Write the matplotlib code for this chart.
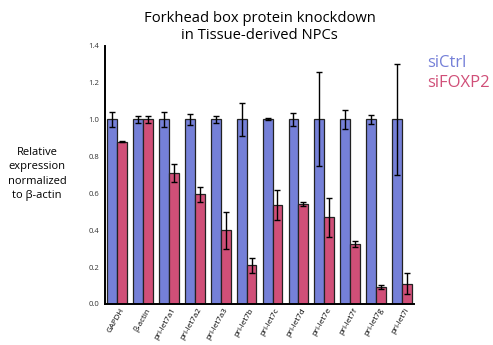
import numpy as np
import matplotlib.pyplot as plt

plt.rcParams['font.family'] = ['Open Sans', 'DejaVu Sans']

# relative expression (normalized to beta-actin), mean and error
genes = ["GAPDH", "β-actin", "pri-let7a1", "pri-let7a2", "pri-let7a3", "pri-let7b",
         "pri-let7c", "pri-let7d", "pri-let7e", "pri-let7f", "pri-let7g", "pri-let7i"]
ctrl_mean = [1.0, 1.0, 1.0, 1.0, 1.0, 1.0, 1.0, 1.0, 1.0, 1.0, 1.0, 1.0]
ctrl_err = [0.04, 0.02, 0.04, 0.03, 0.02, 0.09, 0.005, 0.035, 0.255, 0.053, 0.025, 0.30]
foxp2_mean = [0.88, 1.0, 0.71, 0.595, 0.40, 0.21, 0.535, 0.542, 0.47, 0.324, 0.092, 0.11]
foxp2_err = [0.005, 0.02, 0.05, 0.04, 0.10, 0.04, 0.08, 0.01, 0.105, 0.015, 0.01, 0.055]

BLUE = "#7580d8"
RED = "#d04f78"

fig = plt.figure(figsize=(4.93, 3.45), dpi=100)
ax = fig.add_axes([0.213, 0.119, 0.627, 0.749])

x = np.arange(len(genes))
w = 0.38
err_style = dict(elinewidth=1.0, capsize=2, capthick=1.0, ecolor="black")
ax.bar(x - w / 2, ctrl_mean, w, yerr=ctrl_err, color=BLUE, edgecolor="#222222",
       linewidth=0.9, error_kw=err_style)
ax.bar(x + w / 2, foxp2_mean, w, yerr=foxp2_err, color=RED, edgecolor="#222222",
       linewidth=0.9, error_kw=err_style)

ax.set_xlim(-0.47, 11.47)
ax.set_ylim(0, 1.4)
yt = np.arange(0, 1.41, 0.2)
ax.set_yticks(yt)
ax.set_yticklabels([f"{v:.1f}" for v in yt], fontsize=5.5, color="#333333")
ax.set_xticks(x + 0.1)
ax.set_xticklabels(genes, rotation=60, ha="right", rotation_mode="anchor", fontsize=5.8)
ax.tick_params(axis="both", length=0, pad=4)
ax.tick_params(axis="x", pad=2)
for s in ["top", "right"]:
    ax.spines[s].set_visible(False)
for s in ["left", "bottom"]:
    ax.spines[s].set_linewidth(1.4)

fig.text(0.527, 0.922, "Forkhead box protein knockdown\nin Tissue-derived NPCs",
         ha="center", va="center", fontsize=10.6, linespacing=1.2)
fig.text(0.075, 0.496, "Relative\nexpression\nnormalized\nto β-actin",
         ha="center", va="center", fontsize=8, linespacing=1.42)
fig.text(0.866, 0.817, "siCtrl", color=BLUE, fontsize=12, va="center")
fig.text(0.866, 0.759, "siFOXP2", color=RED, fontsize=12, va="center")

fig.savefig("out.png", dpi=100)
